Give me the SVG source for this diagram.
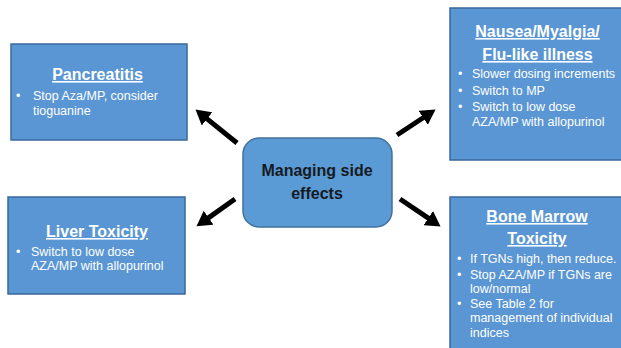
<svg xmlns="http://www.w3.org/2000/svg" width="621" height="348" viewBox="0 0 621 348">
<style>
.box{fill:#5a96d3;stroke:#3a679a;stroke-width:1.5}
.hub{fill:#5b9bd5;stroke:#41719c;stroke-width:1.5}
.title{font-family:"Liberation Sans",Arial,sans-serif;font-size:16px;font-weight:bold;fill:#fff;text-anchor:middle;text-decoration:underline}
.body{font-family:"Liberation Sans",Arial,sans-serif;font-size:12.5px;fill:#fff}
.hubtext{font-family:"Liberation Sans",Arial,sans-serif;font-size:16px;font-weight:bold;fill:#151a22;text-anchor:middle}
.arrow{stroke:#000;stroke-width:5;fill:none;marker-end:url(#head)}
</style>
<defs>
<marker id="head" markerUnits="userSpaceOnUse" markerWidth="16" markerHeight="17" viewBox="0 0 15 16" refX="3" refY="8" orient="auto">
<path d="M0,0 L14,8 L0,16 z" fill="#000"/>
</marker>
</defs>
<rect width="621" height="348" fill="#fff"/>
<g id="connectors">
<line class="arrow" x1="237" y1="143" x2="204.6" y2="116.9"/>
<line class="arrow" x1="397" y1="135" x2="425.8" y2="116"/>
<line class="arrow" x1="235" y1="199" x2="206" y2="219.6"/>
<line class="arrow" x1="400" y1="199" x2="430.9" y2="219.9"/>
</g>
<g id="hub">
<rect class="hub" x="243" y="138" width="149" height="89" rx="16"/>
<text class="hubtext" x="317" y="176">Managing side</text>
<text class="hubtext" x="317" y="199">effects</text>
</g>
<g id="pancreatitis">
<rect class="box" x="11" y="44" width="176" height="96"/>
<text class="title" x="97.5" y="80">Pancreatitis</text>
<text class="body" x="16" y="100">•</text>
<text class="body" x="33" y="100">Stop Aza/MP, consider</text>
<text class="body" x="33" y="115">tioguanine</text>
</g>
<g id="nausea">
<rect class="box" x="450" y="8" width="180" height="152"/>
<text class="title" x="537.5" y="37">Nausea/Myalgia/</text>
<text class="title" x="537.5" y="60">Flu-like illness</text>
<text class="body" x="458" y="78">•</text>
<text class="body" x="472" y="78">Slower dosing increments</text>
<text class="body" x="458" y="95">•</text>
<text class="body" x="472" y="95">Switch to MP</text>
<text class="body" x="458" y="111">•</text>
<text class="body" x="472" y="111">Switch to low dose</text>
<text class="body" x="472" y="126">AZA/MP with allopurinol</text>
</g>
<g id="liver">
<rect class="box" x="8" y="197" width="177" height="97"/>
<text class="title" x="97" y="237">Liver Toxicity</text>
<text class="body" x="16" y="256">•</text>
<text class="body" x="31" y="256">Switch to low dose</text>
<text class="body" x="31" y="270">AZA/MP with allopurinol</text>
</g>
<g id="bone-marrow">
<rect class="box" x="450" y="197" width="180" height="160"/>
<text class="title" x="537" y="222">Bone Marrow</text>
<text class="title" x="537" y="244">Toxicity</text>
<text class="body" x="457" y="263">•</text>
<text class="body" x="470" y="263">If TGNs high, then reduce.</text>
<text class="body" x="457" y="279">•</text>
<text class="body" x="470" y="279">Stop AZA/MP if TGNs are</text>
<text class="body" x="470" y="293">low/normal</text>
<text class="body" x="457" y="308">•</text>
<text class="body" x="470" y="308">See Table 2 for</text>
<text class="body" x="470" y="322">management of individual</text>
<text class="body" x="470" y="337">indices</text>
</g>
</svg>
